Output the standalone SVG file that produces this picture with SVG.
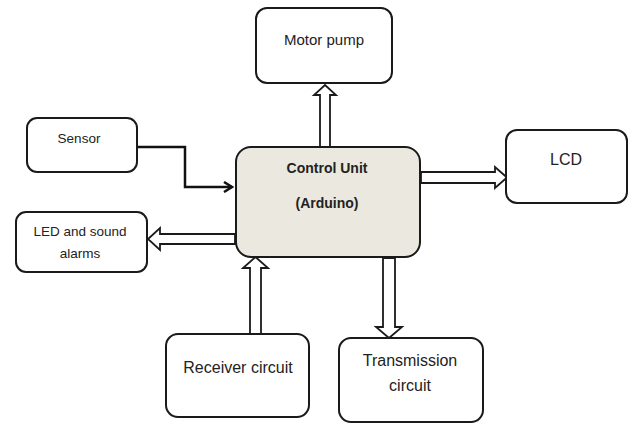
<svg xmlns="http://www.w3.org/2000/svg" width="629" height="425" viewBox="0 0 629 425">
<defs>
<style>
.box{fill:#fff;stroke:#1a1a1a;stroke-width:2}
.ctrl{fill:#ebe9df;stroke:#1a1a1a;stroke-width:2}
.t{font-family:"Liberation Sans",Arial,sans-serif;fill:#222;text-anchor:middle}
.b{font-weight:bold}
.blk{fill:#fff;stroke:#1a1a1a;stroke-width:1.8;stroke-linejoin:miter}
.ln{fill:none;stroke:#111;stroke-width:2.5}
</style>
<marker id="open" markerWidth="12" markerHeight="12" refX="10" refY="6" orient="auto" markerUnits="userSpaceOnUse">
<path d="M2,1 L10,6 L2,11" fill="none" stroke="#111" stroke-width="2.5"/>
</marker>
</defs>
<rect width="629" height="425" fill="#fff"/>
<g id="connectors">
<polyline class="ln" points="137,147 185,147 185,187 232,187" marker-end="url(#open)"/>
<polygon class="blk" points="320,147 320,95 314,95 325,85 336,95 330,95 330,147"/>
<polygon class="blk" points="421,172 495,172 495,167 507,177.5 495,188 495,183 421,183"/>
<polygon class="blk" points="235,234 160,234 160,228 148,239 160,250 160,244 235,244"/>
<polygon class="blk" points="250,334 250,268 243,268 255.5,257 268,268 261,268 261,334"/>
<polygon class="blk" points="383,258 383,327 376,327 389,338 402,327 395,327 395,258"/>
</g>
<g id="sensor">
<rect class="box" x="27" y="118" width="110" height="54" rx="10"/>
<text class="t" x="79" y="143" font-size="13.5">Sensor</text>
</g>
<g id="motor-pump">
<rect class="box" x="256" y="8" width="136" height="75" rx="11"/>
<text class="t" x="324" y="45" font-size="15">Motor pump</text>
</g>
<g id="control-unit">
<rect class="ctrl" x="236" y="147" width="184" height="110" rx="15"/>
<text class="t b" x="327" y="173" font-size="14">Control Unit</text>
<text class="t b" x="327" y="208" font-size="14">(Arduino)</text>
</g>
<g id="lcd">
<rect class="box" x="506" y="130" width="121" height="73" rx="11"/>
<text class="t" x="566" y="165" font-size="16">LCD</text>
</g>
<g id="led-alarms">
<rect class="box" x="16" y="212" width="131" height="60" rx="10"/>
<text class="t" x="80" y="236" font-size="13.5">LED and sound</text>
<text class="t" x="80" y="258" font-size="13.5">alarms</text>
</g>
<g id="receiver">
<rect class="box" x="166" y="334" width="143" height="83" rx="12"/>
<text class="t" x="238" y="373" font-size="16">Receiver circuit</text>
</g>
<g id="transmission">
<rect class="box" x="339" y="338" width="144" height="84" rx="12"/>
<text class="t" x="410" y="366" font-size="16">Transmission</text>
<text class="t" x="410" y="391" font-size="16">circuit</text>
</g>
</svg>
